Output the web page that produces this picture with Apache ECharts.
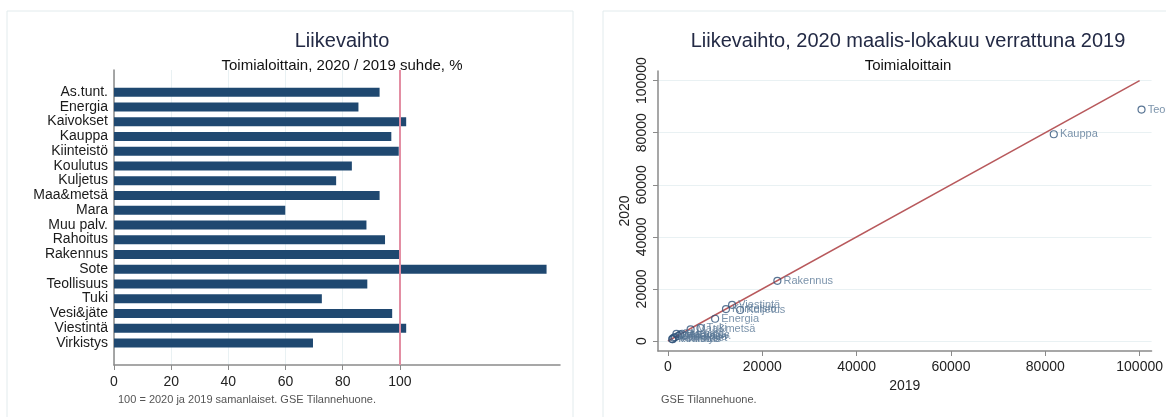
<!DOCTYPE html>
<html>
<head>
<meta charset="utf-8">
<title>Liikevaihto</title>
<script src="https://cdn.jsdelivr.net/npm/echarts@6.0.0/dist/echarts.min.js"></script>
<style>
  html, body { margin: 0; padding: 0; background: #fff; }
  #main { width: 1166px; height: 417px; }
</style>
</head>
<body>
<div id="main"></div>
<script>
// toimialat (sama järjestys molemmissa kuvissa)
var industries = ['As.tunt.', 'Energia', 'Kaivokset', 'Kauppa', 'Kiinteistö', 'Koulutus', 'Kuljetus',
  'Maa&metsä', 'Mara', 'Muu palv.', 'Rahoitus', 'Rakennus', 'Sote', 'Teollisuus', 'Tuki',
  'Vesi&jäte', 'Viestintä', 'Virkistys']
// 2020 / 2019 suhde, %
var ratio = [92.9, 85.5, 102.2, 97.0, 99.6, 83.2, 77.7, 92.9, 59.9, 88.3, 94.8, 99.7, 151.3,
  88.6, 72.7, 97.3, 102.2, 69.6]
// liikevaihto maalis-lokakuu
var sales2019 = [3000, 10000, 1200, 81800, 12300, 900, 15300, 4800, 3500, 2200, 2600, 23200, 1800,
  100400, 6900, 1500, 13600, 1000]
var sales2020 = [2790, 8550, 1230, 79400, 12250, 750, 11900, 4460, 2100, 1940, 2460, 23130, 2720,
  88900, 5000, 1460, 13900, 700]
var ratioTicks = [0, 20, 40, 60, 80, 100]
var salesTicks = [0, 20000, 40000, 60000, 80000, 100000]
var equalLine = [0, 100000]

var FONT = '"Liberation Sans", Arial, sans-serif'
var chart = echarts.init(document.getElementById('main'))

// tyhjä rivi ylä- ja alapuolelle, kuten alkuperäisessä
var yCats = [' '].concat(industries, ['  '])
var barData = [null].concat(ratio, [null])
var scatterData = industries.map(function (name, i) {
  return { name: name, value: [sales2019[i], sales2020[i]] }
})
var plain = function (v) { return String(v) }

var option = {
  animation: false,
  textStyle: { fontFamily: FONT },
  graphic: [
    { type: 'rect', shape: { x: 7, y: 11, width: 566, height: 420 },
      style: { fill: 'none', stroke: '#e2ebed', lineWidth: 1 }, silent: true, z: -10 },
    { type: 'rect', shape: { x: 603, y: 11, width: 600, height: 420 },
      style: { fill: 'none', stroke: '#e2ebed', lineWidth: 1 }, silent: true, z: -10 },
    { type: 'text', left: 118, top: 394,
      style: { text: '100 = 2020 ja 2019 samanlaiset. GSE Tilannehuone.', fill: '#555', font: '11px ' + FONT } },
    { type: 'text', left: 661, top: 394,
      style: { text: 'GSE Tilannehuone.', fill: '#555', font: '11px ' + FONT } }
  ],
  title: [
    { text: 'Liikevaihto', left: 337, top: 26, textAlign: 'center',
      textStyle: { fontSize: 20, fontWeight: 'normal', color: '#232a45', fontFamily: FONT } },
    { text: 'Toimialoittain, 2020 / 2019 suhde, %', left: 337, top: 53, textAlign: 'center',
      textStyle: { fontSize: 15, fontWeight: 'normal', color: '#111', fontFamily: FONT } },
    { text: 'Liikevaihto, 2020 maalis-lokakuu verrattuna 2019', left: 903, top: 26, textAlign: 'center',
      textStyle: { fontSize: 20, fontWeight: 'normal', color: '#232a45', fontFamily: FONT } },
    { text: 'Toimialoittain', left: 903, top: 53, textAlign: 'center',
      textStyle: { fontSize: 15, fontWeight: 'normal', color: '#111', fontFamily: FONT } }
  ],
  grid: [
    { left: 114, right: 606, top: 70, bottom: 52 },
    { left: 658, right: 12, top: 71, bottom: 66 }
  ],
  xAxis: [
    {
      gridIndex: 0,
      type: 'value',
      min: 0,
      max: 156,
      axisLine: { show: true, lineStyle: { color: '#8a8a8a', width: 1.5 } },
      axisTick: { show: true, length: 5, customValues: ratioTicks, lineStyle: { color: '#8a8a8a' } },
      axisLabel: { customValues: ratioTicks, fontSize: 14, color: '#222', margin: 10 },
      splitLine: { show: true, lineStyle: { color: '#e9f1f3', width: 1 } }
    },
    {
      gridIndex: 1,
      type: 'value',
      min: -2110,
      max: 102530,
      name: '2019',
      nameLocation: 'middle',
      nameGap: 22,
      nameTextStyle: { fontSize: 14, color: '#222' },
      axisLine: { show: true, onZero: false, lineStyle: { color: '#8a8a8a', width: 1.5 } },
      axisTick: { show: true, length: 5, customValues: salesTicks, lineStyle: { color: '#8a8a8a' } },
      axisLabel: { customValues: salesTicks, formatter: plain, fontSize: 14, color: '#222', margin: 9 },
      splitLine: { show: false }
    }
  ],
  yAxis: [
    {
      gridIndex: 0,
      type: 'category',
      inverse: true,
      data: yCats,
      axisLine: { show: true, lineStyle: { color: '#8a8a8a', width: 1.5 } },
      axisTick: { show: false },
      axisLabel: { fontSize: 14, color: '#1a1a1a', margin: 6, interval: 0 }
    },
    {
      gridIndex: 1,
      type: 'value',
      min: -3840,
      max: 103700,
      name: '2020',
      nameLocation: 'middle',
      nameGap: 26,
      nameTextStyle: { fontSize: 14, color: '#222' },
      axisLine: { show: true, onZero: false, lineStyle: { color: '#8a8a8a', width: 1.5 } },
      axisTick: { show: true, length: 5, customValues: salesTicks, lineStyle: { color: '#8a8a8a' } },
      axisLabel: { customValues: salesTicks, formatter: plain, rotate: 90, fontSize: 14, color: '#222', margin: 9 },
      splitLine: { show: true, lineStyle: { color: '#e9f1f3', width: 1 } }
    }
  ],
  series: [
    {
      type: 'bar',
      xAxisIndex: 0,
      yAxisIndex: 0,
      data: barData,
      barWidth: 9,
      itemStyle: { color: '#1f4870' },
      markLine: {
        silent: true,
        symbol: 'none',
        label: { show: false },
        lineStyle: { color: '#e38ea3', width: 2, type: 'solid' },
        data: [{ xAxis: 100 }]
      }
    },
    {
      type: 'line',
      xAxisIndex: 1,
      yAxisIndex: 1,
      data: [[equalLine[0], equalLine[0]], [equalLine[1], equalLine[1]]],
      symbol: 'none',
      lineStyle: { color: '#b8595c', width: 1.5 },
      z: 3
    },
    {
      type: 'scatter',
      xAxisIndex: 1,
      yAxisIndex: 1,
      data: scatterData,
      symbol: 'circle',
      symbolSize: 7,
      clip: false,
      itemStyle: { color: 'rgba(255,255,255,0)', borderColor: '#2f5279', borderWidth: 1.2 },
      label: {
        show: true,
        position: 'right',
        distance: 2,
        formatter: '{b}',
        fontSize: 11,
        color: '#5a7896'
      },
      z: 4
    }
  ]
}

chart.setOption(option)
window.onresize = chart.resize
</script>
</body>
</html>
